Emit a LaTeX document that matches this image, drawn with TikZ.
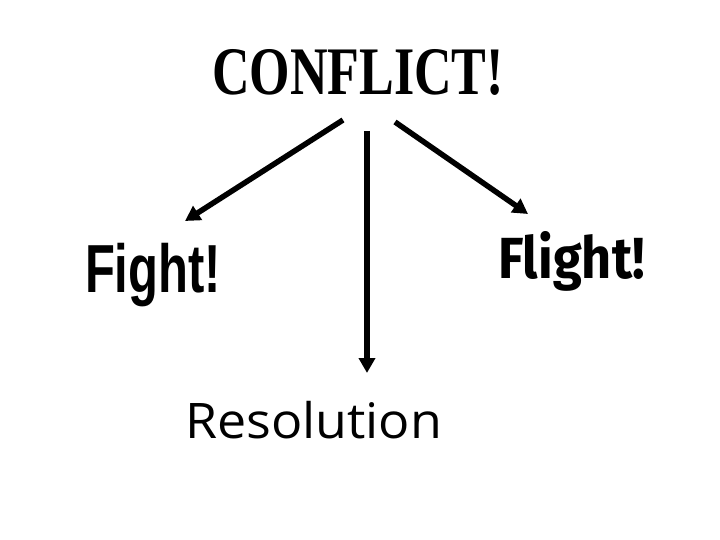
\documentclass[tikz,border=0pt]{standalone}
\usepackage{fontspec}
\setmainfont{Liberation Serif}
\newfontfamily\conflictfont{Liberation Serif}
\newfontfamily\fightfont{Liberation Sans}
\newfontfamily\flightfont{Fira Sans}
\newfontfamily\resfont{Open Sans}
\usetikzlibrary{arrows.meta}
\begin{document}
\begin{tikzpicture}[x=1pt,y=-1pt,
  lbl/.style={anchor=base west, inner sep=0pt, outer sep=0pt},
  arr/.style={line width=5.5pt, -{Triangle[length=15pt,width=16pt]}}]
\useasboundingbox (0,0) rectangle (720,540);
\fill[white] (0,0) rectangle (720,540);
\node[lbl] (conflict) at (212,95) {\conflictfont\bfseries\fontsize{68}{68}\selectfont\scalebox{0.765}[1]{CONFLICT!}};
\node[lbl] (fight) at (85,292) {\fightfont\bfseries\fontsize{68}{68}\selectfont\scalebox{0.72}[1]{Fight!}};
\node[lbl] (flight) at (498,278) {\flightfont\bfseries\fontsize{58}{58}\selectfont\scalebox{0.9}[1]{Flight!}};
\node[lbl] (res) at (185,438) {\resfont\fontsize{49}{49}\selectfont\scalebox{1.06}[1]{Resolution}};
\coordinate (s1) at (343,120);
\coordinate (e1) at (185,221);
\coordinate (s2) at (395,122);
\coordinate (e2) at (528,214);
\coordinate (s3) at (367,131);
\coordinate (e3) at (367,373);
\draw[arr] (s1) -- (e1);
\draw[arr] (s2) -- (e2);
\draw[arr] (s3) -- (e3);
\end{tikzpicture}
\end{document}
